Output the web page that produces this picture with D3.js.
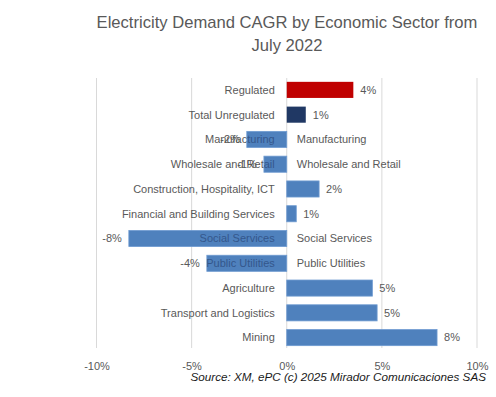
<!DOCTYPE html>
<html>
<head>
<meta charset="utf-8">
<script src="https://cdn.jsdelivr.net/npm/d3@7"></script>
<style>
  body { margin: 0; background: #fff; }
  text { font-family: "Liberation Sans", Arial, sans-serif; }
</style>
</head>
<body>
<script>
// Chart data
const categories = ['Regulated', 'Total Unregulated', 'Manufacturing', 'Wholesale and Retail',
  'Construction, Hospitality, ICT', 'Financial and Building Services', 'Social Services',
  'Public Utilities', 'Agriculture', 'Transport and Logistics', 'Mining'];
const values = [3.5, 1.0, -2.1, -1.2, 1.7, 0.5, -8.3, -4.2, 4.5, 4.75, 7.9];
const barColors = ['#c00000', '#203864', '#4f81bd', '#4f81bd', '#4f81bd', '#4f81bd',
  '#4f81bd', '#4f81bd', '#4f81bd', '#4f81bd', '#4f81bd'];
const xTicks = [-10, -5, 0, 5, 10];

const width = 496;
const height = 397;

const svg = d3.select('body')
  .append('svg')
  .attr('width', width)
  .attr('height', height);

const data = categories.map((c, i) => ({ name: c, value: values[i], color: barColors[i], i: i }));

const x = d3.scaleLinear()
  .domain([-10, 10])
  .range([96.5, 477]);

const y = d3.scaleBand()
  .domain(categories)
  .range([77.5, 350])
  .paddingInner(0.35)
  .paddingOuter(0.175);

const labelSize = '11px';

// Title
svg.append('text')
  .attr('x', 287)
  .attr('y', 28)
  .attr('text-anchor', 'middle')
  .attr('fill', '#595959')
  .style('font-size', '16.6px')
  .text('Electricity Demand CAGR by Economic Sector from');
svg.append('text')
  .attr('x', 287)
  .attr('y', 51)
  .attr('text-anchor', 'middle')
  .attr('fill', '#595959')
  .style('font-size', '16.6px')
  .text('July 2022');

// Gridlines
svg.append('g')
  .selectAll('line')
  .data(xTicks)
  .enter()
  .append('line')
  .attr('x1', d => x(d))
  .attr('x2', d => x(d))
  .attr('y1', 78)
  .attr('y2', 348)
  .attr('stroke', '#d9d9d9')
  .attr('stroke-width', 1);

// x axis labels
const xAxis = svg.append('g')
  .attr('transform', 'translate(0, 357)')
  .call(d3.axisBottom(x).tickValues(xTicks).tickSize(0).tickFormat(d => d + '%'));
xAxis.select('.domain').remove();
xAxis.selectAll('text')
  .attr('fill', '#595959')
  .style('font-size', labelSize)
  .attr('dy', '0.71em')
  .attr('y', 5);

// Category labels on the left of the axis (under the bars)
svg.append('g')
  .selectAll('text')
  .data(data)
  .enter()
  .append('text')
  .attr('x', x(0) - 12)
  .attr('y', d => y(d.name) + y.bandwidth() / 2)
  .attr('dy', '0.35em')
  .attr('text-anchor', 'end')
  .attr('fill', '#595959')
  .style('font-size', labelSize)
  .text(d => d.name);

// Bars
const barX = d => x(Math.min(0, d.value));
const barW = d => Math.abs(x(d.value) - x(0));

svg.append('g')
  .selectAll('rect')
  .data(data)
  .enter()
  .append('rect')
  .attr('x', barX)
  .attr('y', d => y(d.name))
  .attr('width', barW)
  .attr('height', y.bandwidth())
  .attr('fill', d => d.color)
  .attr('stroke', d => d.color === '#4f81bd' ? '#6f9bd1' : 'none')
  .attr('stroke-width', 0.8);

// Labels showing through the negative bars
const negData = data.filter(d => d.value < 0);
const defs = svg.append('defs');
negData.forEach(d => {
  defs.append('clipPath')
    .attr('id', 'clip' + d.i)
    .append('rect')
    .attr('x', barX(d))
    .attr('y', y(d.name))
    .attr('width', barW(d))
    .attr('height', y.bandwidth());
});

svg.append('g')
  .selectAll('text')
  .data(negData)
  .enter()
  .append('text')
  .attr('clip-path', d => 'url(#clip' + d.i + ')')
  .attr('x', x(0) - 12)
  .attr('y', d => y(d.name) + y.bandwidth() / 2)
  .attr('dy', '0.35em')
  .attr('text-anchor', 'end')
  .attr('fill', '#34578c')
  .style('font-size', labelSize)
  .text(d => d.name);

// Repeated labels on the right for negative rows
svg.append('g')
  .selectAll('text')
  .data(negData)
  .enter()
  .append('text')
  .attr('x', x(0) + 10)
  .attr('y', d => y(d.name) + y.bandwidth() / 2)
  .attr('dy', '0.35em')
  .attr('fill', '#595959')
  .style('font-size', labelSize)
  .text(d => d.name);

// Value labels
svg.append('g')
  .selectAll('text')
  .data(data)
  .enter()
  .append('text')
  .attr('x', d => d.value < 0 ? x(d.value) - 7 : x(d.value) + 7)
  .attr('y', d => y(d.name) + y.bandwidth() / 2)
  .attr('dy', '0.35em')
  .attr('text-anchor', d => d.value < 0 ? 'end' : 'start')
  .attr('fill', '#595959')
  .style('font-size', labelSize)
  .text(d => Math.round(d.value) + '%');

// Source
svg.append('text')
  .attr('x', 486)
  .attr('y', 381)
  .attr('text-anchor', 'end')
  .attr('fill', '#1a1a1a')
  .style('font-size', '11.7px')
  .style('font-style', 'italic')
  .text('Source: XM, ePC (c) 2025 Mirador Comunicaciones SAS');
</script>
</body>
</html>
